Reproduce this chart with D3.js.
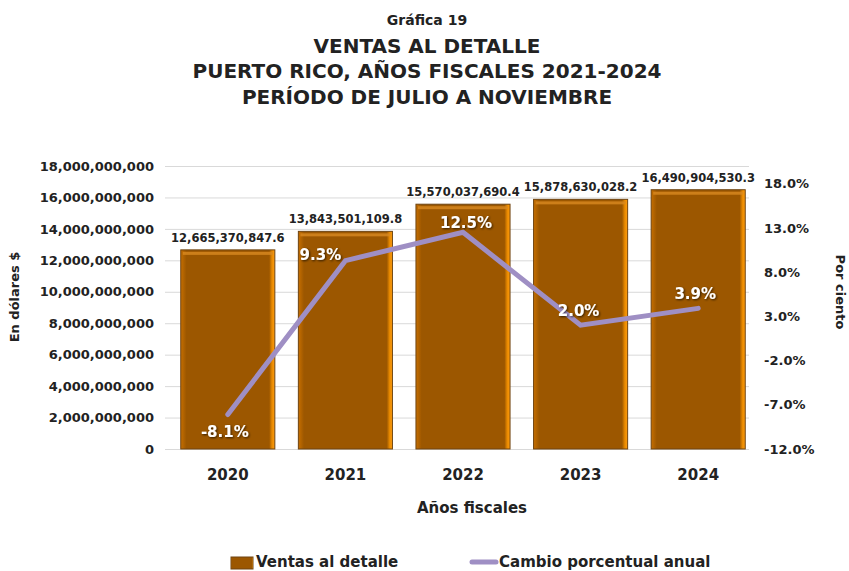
<!DOCTYPE html>
<meta charset="utf-8">
<style>
body { margin: 0; background: #fff; }
text { font-family: "DejaVu Sans", sans-serif; font-weight: bold; fill: #222; }
.grid line { stroke: #d9d9d9; stroke-width: 1px; }
.grid path { display: none; }
.axis path, .axis line { display: none; }
.pct { fill: #fff; font-size: 15px; }
</style>
<svg width="849" height="571"></svg>
<script src="https://d3js.org/d3.v7.min.js"></script>
<script>
var years = ["2020", "2021", "2022", "2023", "2024"];
var ventas = [12665370847.6, 13843501109.8, 15570037690.4, 15878630028.2, 16490904530.3];
var cambio = [-8.1, 9.3, 12.5, 2.0, 3.9];
var leftTicks = [0, 2e9, 4e9, 6e9, 8e9, 10e9, 12e9, 14e9, 16e9, 18e9];
var rightTicks = [-12, -7, -2, 3, 8, 13, 18];

var svg = d3.select("svg"),
    margin = {top: 166, right: 92, bottom: 122, left: 169},
    width = +svg.attr("width") - margin.left - margin.right,
    height = +svg.attr("height") - margin.top - margin.bottom,
    g = svg.append("g").attr("transform", "translate(" + margin.left + "," + margin.top + ")");

var defs = svg.append("defs");
var grad = defs.append("linearGradient").attr("id", "barGrad").attr("x1", "0").attr("x2", "1");
grad.append("stop").attr("offset", "0").attr("stop-color", "#c76f00");
grad.append("stop").attr("offset", "0.06").attr("stop-color", "#9c5700");
grad.append("stop").attr("offset", "0.94").attr("stop-color", "#9c5700");
grad.append("stop").attr("offset", "0.97").attr("stop-color", "#e98a00");
grad.append("stop").attr("offset", "1").attr("stop-color", "#ff9d10");
var shadow = defs.append("filter").attr("id", "shadow");
shadow.append("feDropShadow").attr("dx", 1).attr("dy", 1).attr("stdDeviation", 0.8)
    .attr("flood-color", "#000").attr("flood-opacity", 0.7);

var x = d3.scaleBand().domain(years).range([0, width]).paddingInner(0.2).paddingOuter(0.1);
var y = d3.scaleLinear().domain([0, 18e9]).range([height, 0]);
var y2 = d3.scaleLinear().domain([-12, 20]).range([height, 0]);

// title
var title = ["Gráfica 19", "VENTAS AL DETALLE", "PUERTO RICO, AÑOS FISCALES 2021-2024", "PERÍODO DE JULIO A NOVIEMBRE"];
svg.append("text").attr("x", 427).attr("y", 25).attr("text-anchor", "middle")
    .style("font-size", "14px").text(title[0]);
[53, 78, 104].forEach(function(yy, i) {
  svg.append("text").attr("x", 427).attr("y", yy).attr("text-anchor", "middle")
      .style("font-size", "20px").text(title[i + 1]);
});

// grid
g.append("g").attr("class", "grid")
    .call(d3.axisLeft(y).tickValues(leftTicks).tickSize(-(width - 4)).tickFormat(""))
    .attr("transform", "translate(-4,0)");

// left axis
g.append("g").attr("class", "axis")
    .attr("transform", "translate(-12,0)")
    .call(d3.axisLeft(y).tickValues(leftTicks).tickSize(0).tickFormat(d3.format(",")))
    .selectAll("text").style("font-size", "13px").attr("fill", "#222");

// right axis
g.append("g").attr("class", "axis")
    .attr("transform", "translate(" + (width + 4) + ",0)")
    .call(d3.axisRight(y2).tickValues(rightTicks).tickSize(0).tickFormat(function(d) { return d.toFixed(1) + "%"; }))
    .selectAll("text").style("font-size", "13px").attr("fill", "#222");

// x axis
g.append("g").attr("class", "axis")
    .attr("transform", "translate(0," + height + ")")
    .call(d3.axisBottom(x).tickSize(0).tickPadding(20))
    .selectAll("text").style("font-size", "15px").attr("fill", "#222");

// axis titles
svg.append("text").attr("transform", "translate(19,297) rotate(-90)").attr("text-anchor", "middle")
    .style("font-size", "13px").text("En dólares $");
svg.append("text").attr("transform", "translate(836,292) rotate(90)").attr("text-anchor", "middle")
    .style("font-size", "13px").text("Por ciento");
svg.append("text").attr("x", 472).attr("y", 513).attr("text-anchor", "middle")
    .style("font-size", "15px").text("Años fiscales");

// bars
var bars = g.selectAll(".bar").data(years).enter().append("g").attr("class", "bar");
bars.append("rect")
    .attr("x", function(d) { return x(d); })
    .attr("y", function(d, i) { return y(ventas[i]); })
    .attr("width", x.bandwidth())
    .attr("height", function(d, i) { return height - y(ventas[i]); })
    .attr("fill", "url(#barGrad)")
    .attr("stroke", "#6e4412").attr("stroke-width", 1);
bars.append("rect")
    .attr("x", function(d) { return x(d) + 2; })
    .attr("y", function(d, i) { return y(ventas[i]) + 2; })
    .attr("width", x.bandwidth() - 4)
    .attr("height", 3)
    .attr("fill", "#d98a20").attr("opacity", 0.8);

bars.append("text")
    .attr("x", function(d) { return x(d) + x.bandwidth() / 2; })
    .attr("y", function(d, i) { return y(ventas[i]) - 8; })
    .attr("text-anchor", "middle")
    .style("font-size", "11.5px")
    .attr("fill", "#333")
    .text(function(d, i) { return d3.format(",.1f")(ventas[i]); });

// line
var line = d3.line()
    .x(function(d, i) { return x(years[i]) + x.bandwidth() / 2; })
    .y(function(d) { return y2(d); });
g.append("path").datum(cambio)
    .attr("d", line)
    .attr("fill", "none")
    .attr("stroke", "#9f8fc4")
    .attr("stroke-width", 5)
    .attr("stroke-linecap", "round");

var labOff = [[-3, 22], [-25, -1], [3, -4], [-2, -9], [-3, -9]];
g.selectAll(".pct").data(cambio).enter().append("text")
    .attr("class", "pct")
    .attr("x", function(d, i) { return x(years[i]) + x.bandwidth() / 2 + labOff[i][0]; })
    .attr("y", function(d, i) { return y2(d) + labOff[i][1]; })
    .attr("text-anchor", "middle")
    .attr("filter", "url(#shadow)")
    .text(function(d) { return d.toFixed(1) + "%"; });

// legend
var lg = svg.append("g");
lg.append("rect").attr("x", 231).attr("y", 557).attr("width", 22).attr("height", 12)
    .attr("fill", "url(#barGrad)").attr("stroke", "#6e4412");
lg.append("text").attr("x", 256).attr("y", 567).style("font-size", "15px").text("Ventas al detalle");
lg.append("line").attr("x1", 472).attr("x2", 496).attr("y1", 562).attr("y2", 562)
    .attr("stroke", "#9f8fc4").attr("stroke-width", 5).attr("stroke-linecap", "round");
lg.append("text").attr("x", 499).attr("y", 567).style("font-size", "15px").text("Cambio porcentual anual");
</script>
